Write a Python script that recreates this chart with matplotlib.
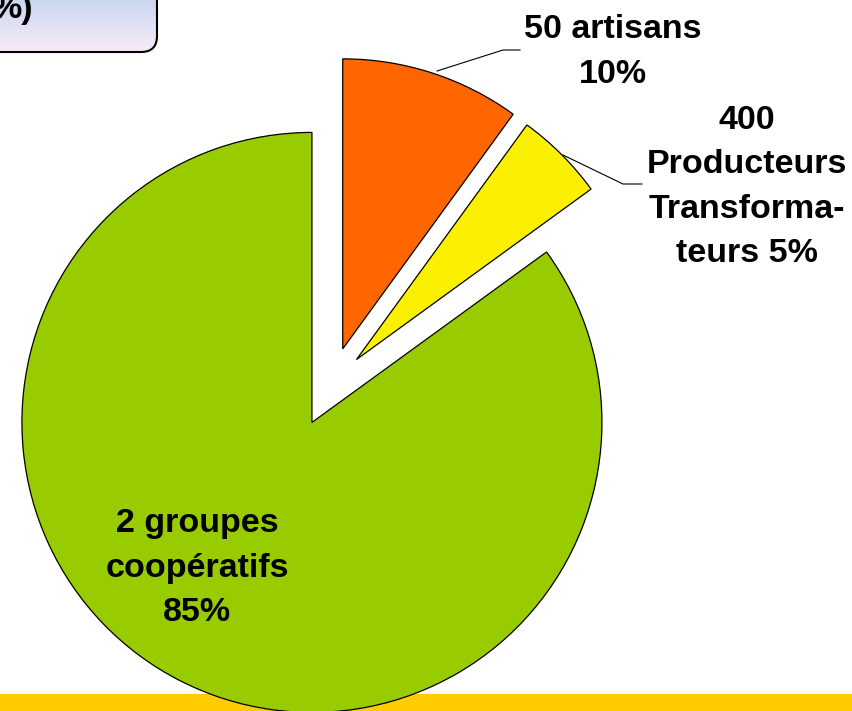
import numpy as np
import matplotlib.pyplot as plt
from matplotlib.patches import FancyBboxPatch, Rectangle

W, H = 852, 711

# données du camembert (ordre : sens horaire depuis midi)
labels = ["50 artisans\n10%",
          "400\nProducteurs\nTransforma-\nteurs 5%",
          "2 groupes\ncoopératifs\n85%"]
shares = [10, 5, 85]
colors = ["#FF6600", "#FBF000", "#99CC00"]

explode = [38, 36, 42]
center = (331, H - 385)
radius = 290

plt.rcParams['font.family'] = ['Liberation Sans', 'DejaVu Sans']

fig = plt.figure(figsize=(W / 100, H / 100), dpi=100)
ax = fig.add_axes([0, 0, 1, 1])

# bande jaune en bas
ax.add_patch(Rectangle((0, 0), W, H - 694, facecolor="#FFCC00", edgecolor='none', zorder=0))

wedges, _ = ax.pie(shares, colors=colors, explode=explode, center=center, radius=radius,
                   startangle=90, counterclock=False,
                   wedgeprops=dict(edgecolor='black', linewidth=0.9))

txt = dict(fontsize=24.5, fontweight='bold', ha='center', va='center', linespacing=1.55)
ax.text(613, H - 52, labels[0], **txt)
ax.text(747, H - 187, labels[1], **txt)
ax.text(197, H - 568, labels[2], **txt)

# traits de rappel
ax.plot([437, 503, 520], [H - 71, H - 50, H - 50], color='black', lw=0.8)
ax.plot([563, 623, 642], [H - 155, H - 184, H - 184], color='black', lw=0.8)

# encadré en haut à gauche (coupé)
box = FancyBboxPatch((-20, H - 52), 177, 80, boxstyle="round,pad=0,rounding_size=16",
                     facecolor='none', edgecolor='black', linewidth=1.5, zorder=3)
ax.add_patch(box)
top = np.array([176, 204, 236]) / 255
bot = np.array([250, 234, 248]) / 255
t = np.linspace(0, 1, 64).reshape(-1, 1, 1)
grad = top + (bot - top) * t
im = ax.imshow(grad, extent=(-20, 157, H - 52, H + 28), origin='upper',
               aspect='auto', zorder=2)
im.set_clip_path(box)
ax.text(33, H - 18, "%)", fontsize=24.5, fontweight='bold', ha='right', va='baseline', zorder=4)

ax.set_xlim(0, W)
ax.set_ylim(0, H)
ax.set_aspect('equal')
ax.axis('off')

fig.savefig("out.png", dpi=100)
